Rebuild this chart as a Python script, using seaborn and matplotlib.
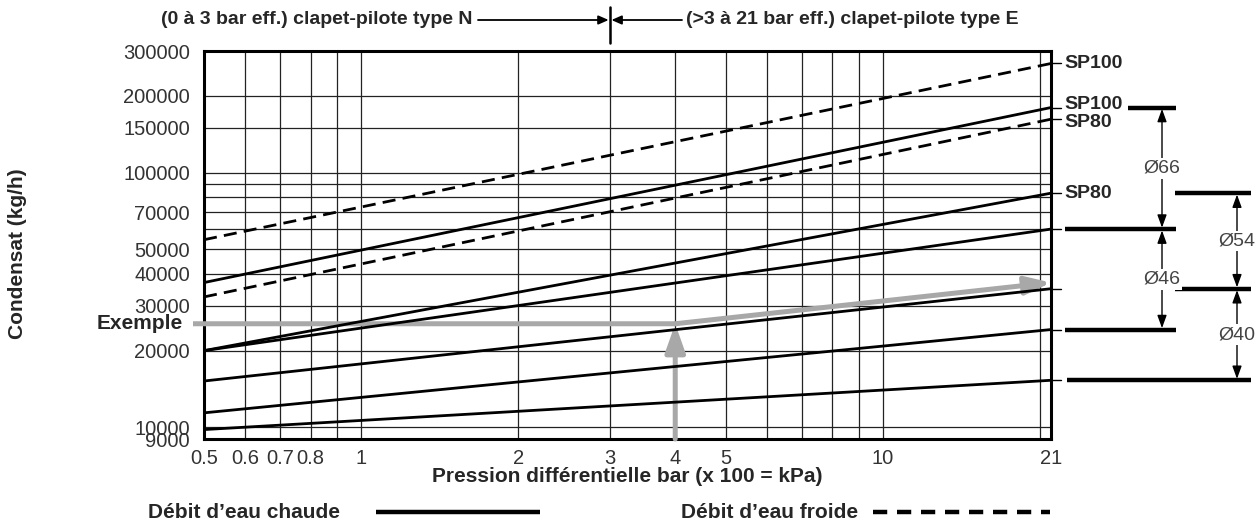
import numpy as np
import pandas as pd
import matplotlib
matplotlib.use("Agg")
import matplotlib.pyplot as plt
import matplotlib.transforms as mtransforms
from matplotlib.lines import Line2D
from matplotlib.ticker import NullFormatter
import seaborn as sns

W, H = 1256, 525

# Courbes : condensat (kg/h) à 0.5 bar et à 21 bar (droites en log-log)
pression = [0.5, 21]
chaude_sp100_66 = [37000, 180000]
chaude_sp80_54 = [20000, 83000]
chaude_66_46 = [20000, 60000]
chaude_54_40 = [15200, 35000]
chaude_46 = [11400, 24200]
chaude_40 = [9800, 15300]
froide_sp100 = [54500, 268000]
froide_sp80 = [32500, 162000]

# Exemple de lecture
ex_pression = 4
ex_condensat = 25500
ex_fin = 37000

# Axes
x_ticks = [0.5, 0.6, 0.7, 0.8, 1, 2, 3, 4, 5, 10, 21]
x_labels = ["0.5", "0.6", "0.7", "0.8", "1", "2", "3", "4", "5", "10", "21"]
x_grille = [0.9, 6, 7, 8, 9, 20]
y_ticks = [9000, 10000, 20000, 30000, 40000, 50000, 70000, 100000, 150000, 200000, 300000]
y_labels = ["9000", "10000", "20000", "30000", "40000", "50000", "70000",
            "100000", "150000", "200000", "300000"]
y_grille = [60000, 80000, 90000]

# Repères à droite
sp_labels = [(froide_sp100[1], "SP100", 0), (chaude_sp100_66[1], "SP100", 3),
             (froide_sp80[1], "SP80", -3), (chaude_sp80_54[1], "SP80", 0)]
diametres = [(chaude_sp100_66[1], chaude_66_46[1], 1162, "Ø66"),
             (chaude_66_46[1], chaude_46[1], 1162, "Ø46"),
             (chaude_sp80_54[1], chaude_54_40[1], 1237, "Ø54"),
             (chaude_54_40[1], chaude_40[1], 1237, "Ø40")]
barres = [(chaude_sp100_66[1], 1128, 1176), (chaude_66_46[1], 1065, 1176),
          (chaude_46[1], 1065, 1176), (chaude_sp80_54[1], 1175, 1251),
          (chaude_54_40[1], 1175, 1251), (chaude_40[1], 1067, 1251)]

courbes = {
    "c1": ("chaude", chaude_sp100_66), "c2": ("chaude", chaude_sp80_54),
    "c3": ("chaude", chaude_66_46), "c4": ("chaude", chaude_54_40),
    "c5": ("chaude", chaude_46), "c6": ("chaude", chaude_40),
    "f1": ("froide", froide_sp100), "f2": ("froide", froide_sp80),
}
rows = []
for nom, (debit, vals) in courbes.items():
    for p, v in zip(pression, vals):
        rows.append({"courbe": nom, "debit": debit, "pression": p, "condensat": v})
df = pd.DataFrame(rows)


def fx(x):
    return x / W


def fy(y):
    return 1 - y / H


sns.set_style("white")
plt.rcParams['font.family'] = ['Liberation Sans', 'DejaVu Sans']

fig = plt.figure(figsize=(W / 100, H / 100), dpi=100)
ax = fig.add_axes([fx(204), fy(439), (1051 - 204) / W, (439 - 51) / H])
ax.set_xscale("log")
ax.set_yscale("log")

sns.lineplot(data=df, x="pression", y="condensat", units="courbe", estimator=None,
             style="debit", dashes={"chaude": "", "froide": (4.7, 2.6)},
             color="black", lw=2, legend=False, ax=ax, zorder=4)

ax.set_xlim(0.5, 21)
ax.set_ylim(9000, 300000)
ax.set_xticks(x_ticks)
ax.set_xticklabels(x_labels)
ax.set_xticks(x_grille, minor=True)
ax.set_yticks(y_ticks)
ax.set_yticklabels(y_labels)
ax.set_yticks(y_grille, minor=True)
ax.xaxis.set_minor_formatter(NullFormatter())
ax.yaxis.set_minor_formatter(NullFormatter())
ax.tick_params(which="minor", length=0)
ax.tick_params(which="major", direction="out", length=7, width=1, color="#555",
               labelsize=14.5, labelcolor="#333", pad=3)
ax.tick_params(axis="x", which="major", length=6, pad=1)
ax.grid(True, which="both", color="#222", lw=0.9)
ax.set_axisbelow(True)
ax.set_xlabel("")
ax.set_ylabel("")
for s in ax.spines.values():
    s.set_visible(True)
    s.set_linewidth(2.2)
    s.set_color("black")

# Exemple (gris)
gris = "#a8a8a8"
trans_right = mtransforms.blended_transform_factory(fig.transFigure, ax.transData)
ax.annotate("", xy=(ex_pression, ex_condensat), xytext=(fx(193), ex_condensat),
            textcoords=trans_right, annotation_clip=False,
            arrowprops=dict(arrowstyle="-", color=gris, lw=3.6, shrinkA=0, shrinkB=0,
                            capstyle="butt"), zorder=3)
tete = "-|>,head_length=0.85,head_width=0.3"
ax.annotate("", xy=(ex_pression, ex_condensat), xytext=(ex_pression, 9000),
            arrowprops=dict(arrowstyle=tete, mutation_scale=20, color=gris, lw=3.6,
                            shrinkA=0, shrinkB=0), zorder=3)
ax.annotate("", xy=(21, ex_fin), xytext=(ex_pression, ex_condensat),
            arrowprops=dict(arrowstyle=tete, mutation_scale=18, color=gris, lw=3.6,
                            shrinkA=0, shrinkB=0), zorder=3)
fig.text(fx(183), ex_condensat, "Exemple", transform=trans_right, ha="right",
         va="center", fontsize=15, fontweight="bold")

# Bandeau du haut : type de clapet-pilote
trans_top = mtransforms.blended_transform_factory(ax.transData, fig.transFigure)
fig.add_artist(Line2D([3, 3], [fy(7), fy(43)], transform=trans_top, color="black", lw=1.8))
petite = "-|>,head_length=0.5,head_width=0.22"
ax.annotate("", xy=(3, fy(20)), xycoords=trans_top, xytext=(fx(478), fy(20)),
            textcoords="figure fraction", annotation_clip=False,
            arrowprops=dict(arrowstyle=petite, mutation_scale=12, color="black", lw=1.3,
                            shrinkA=0, shrinkB=1))
ax.annotate("", xy=(3, fy(20)), xycoords=trans_top, xytext=(fx(682), fy(20)),
            textcoords="figure fraction", annotation_clip=False,
            arrowprops=dict(arrowstyle=petite, mutation_scale=12, color="black", lw=1.3,
                            shrinkA=0, shrinkB=1))
fig.text(fx(472), fy(20), "(0 à 3 bar eff.) clapet-pilote type N", ha="right",
         va="center", fontsize=14, fontweight="bold")
fig.text(fx(686), fy(20), "(>3 à 21 bar eff.) clapet-pilote type E", ha="left",
         va="center", fontsize=14, fontweight="bold")

# Repères à droite du cadre
for vals in courbes.values():
    v = vals[1][1]
    fig.add_artist(Line2D([fx(1051), fx(1061)], [v, v], transform=trans_right,
                          color="black", lw=1))
for v, txt, dy in sp_labels:
    t = mtransforms.offset_copy(trans_right, fig=fig, y=dy, units="dots")
    fig.text(fx(1064), v, txt, transform=t, ha="left", va="center",
             fontsize=14, fontweight="bold")
for v, x0, x1 in barres:
    fig.add_artist(Line2D([fx(x0), fx(x1)], [v, v], transform=trans_right,
                          color="black", lw=3.2, solid_capstyle="butt"))
for haut, bas, x, txt in diametres:
    ax.annotate("", xy=(fx(x), haut), xycoords=trans_right, xytext=(fx(x), bas),
                textcoords=trans_right, annotation_clip=False,
                arrowprops=dict(arrowstyle="<|-|>,head_length=0.55,head_width=0.2",
                                mutation_scale=14, color="black", lw=1,
                                shrinkA=1, shrinkB=1))
    fig.text(fx(x), np.sqrt(haut * bas), txt, transform=trans_right, ha="center",
             va="center", fontsize=14, color="#444",
             bbox=dict(boxstyle="square,pad=0.1", fc="white", ec="none"))

# Titres des axes
fig.text(fx(18), fy(254), "Condensat (kg/h)", rotation=90, ha="center", va="center",
         fontsize=15, fontweight="bold")
fig.text(fx(627), fy(477), "Pression différentielle bar (x 100 = kPa)", ha="center",
         va="center", fontsize=15, fontweight="bold")

# Légende
fig.text(fx(148), fy(512), "Débit d’eau chaude", ha="left", va="center",
         fontsize=15, fontweight="bold")
fig.add_artist(Line2D([fx(376), fx(540)], [fy(512), fy(512)], color="black", lw=3.2,
                      solid_capstyle="butt"))
fig.text(fx(681), fy(512), "Débit d’eau froide", ha="left", va="center",
         fontsize=15, fontweight="bold")
fig.add_artist(Line2D([fx(873), fx(1050)], [fy(512), fy(512)], color="black", lw=3.2,
                      dashes=(3.2, 2.2), dash_capstyle="butt"))

fig.savefig("out.png", dpi=100)
